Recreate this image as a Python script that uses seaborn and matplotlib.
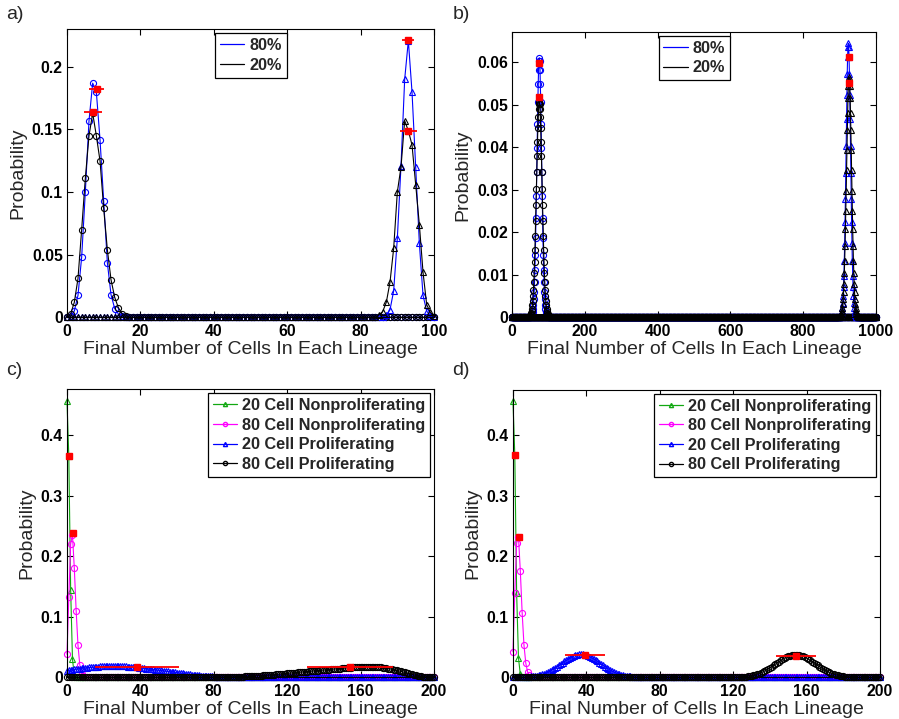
import numpy as np
import matplotlib
matplotlib.use("Agg")
import matplotlib.pyplot as plt
from matplotlib.lines import Line2D
import seaborn as sns

# ---------------- Panel a (x = 0..100) ----------------
a_xmax = 100
a_blue_circ_start = 1
a_blue_circ = [0.001, 0.005, 0.0175, 0.048, 0.100, 0.157, 0.187, 0.180, 0.142, 0.093,
               0.0436, 0.018, 0.007, 0.0027, 0.001]
a_black_circ_start = 1
a_black_circ = [0.0027, 0.012, 0.031, 0.070, 0.111, 0.145, 0.163, 0.145, 0.125, 0.087,
                0.054, 0.030, 0.016, 0.0077, 0.003, 0.001]
a_blue_tri_start = 87
a_blue_tri = [0.0015, 0.006, 0.021, 0.063, 0.121, 0.190, 0.221, 0.180, 0.120, 0.059,
              0.0175, 0.005, 0.001]
a_black_tri_start = 85
a_black_tri = [0.002, 0.0045, 0.012, 0.028, 0.055, 0.100, 0.120, 0.157, 0.149, 0.1377,
               0.106, 0.074, 0.036, 0.010, 0.004, 0.001]
a_red_x = [8.1, 7.0, 93.0, 93.0]
a_red_y = [0.1824, 0.1638, 0.2216, 0.1489]
a_red_err = [2.1, 2.45, 1.6, 2.4]

# ---------------- Panel b (x = 0..1000) ----------------
b_xmax = 1000
b_blue_circ_start = 50
b_blue_circ = [0.00004, 0.00007, 0.00012, 0.0002, 0.00033, 0.00054, 0.00085, 0.0013, 0.0020, 0.0029,
               0.0043, 0.0060, 0.0083, 0.0111, 0.0146, 0.0187, 0.0234, 0.0286, 0.0341, 0.0398,
               0.0454, 0.0505, 0.0548, 0.0582, 0.0603, 0.0610, 0.0603, 0.0582, 0.0548, 0.0505,
               0.0454, 0.0398, 0.0341, 0.0286, 0.0234, 0.0187, 0.0146, 0.0111, 0.0083, 0.0060,
               0.0043, 0.0029, 0.0020, 0.0013, 0.00085, 0.00054, 0.00033, 0.0002, 0.00012, 0.00007,
               0.00004]
b_black_circ_start = 48
b_black_circ = [0.0001, 0.0002, 0.0003, 0.0005, 0.0007, 0.0010, 0.0015, 0.0020, 0.0028, 0.0038,
                0.0050, 0.0065, 0.0083, 0.0105, 0.0130, 0.0159, 0.0191, 0.0227, 0.0264, 0.0302,
                0.0341, 0.0378, 0.0413, 0.0444, 0.0470, 0.0489, 0.0501, 0.0505, 0.0501, 0.0489,
                0.0470, 0.0444, 0.0413, 0.0378, 0.0341, 0.0302, 0.0264, 0.0227, 0.0191, 0.0159,
                0.0130, 0.0105, 0.0083, 0.0065, 0.0050, 0.0038, 0.0028, 0.0020, 0.0015, 0.0010,
                0.0007, 0.0005, 0.0003, 0.0002, 0.0001]
b_blue_tri_start = 902
b_blue_tri = [0.0001, 0.0002, 0.00035, 0.0006, 0.0009, 0.0015, 0.0023, 0.0034, 0.0050, 0.0071,
              0.0098, 0.0133, 0.0175, 0.0224, 0.0279, 0.0340, 0.0403, 0.0465, 0.0523, 0.0573,
              0.0611, 0.0636, 0.0644, 0.0636, 0.0611, 0.0573, 0.0523, 0.0465, 0.0403, 0.0340,
              0.0279, 0.0224, 0.0175, 0.0133, 0.0098, 0.0071, 0.0050, 0.0034, 0.0023, 0.0015,
              0.0009, 0.0006, 0.00035, 0.0002, 0.0001]
b_black_tri_start = 901
b_black_tri = [0.0001, 0.0002, 0.0003, 0.0004, 0.0007, 0.0010, 0.0015, 0.0022, 0.0031, 0.0043,
               0.0059, 0.0079, 0.0104, 0.0133, 0.0168, 0.0207, 0.0251, 0.0297, 0.0346, 0.0394,
               0.0440, 0.0481, 0.0516, 0.0543, 0.0559, 0.0565, 0.0559, 0.0543, 0.0516, 0.0481,
               0.0440, 0.0394, 0.0346, 0.0297, 0.0251, 0.0207, 0.0168, 0.0133, 0.0104, 0.0079,
               0.0059, 0.0043, 0.0031, 0.0022, 0.0015, 0.0010, 0.0007, 0.0004, 0.0003, 0.0002,
               0.0001]
b_red_x = [75.0, 75.0, 927.0, 926.0]
b_red_y = [0.0598, 0.0518, 0.0612, 0.0551]
b_red_err = [6.5, 7.9, 6.2, 7.1]

# ---------------- Panel c (x = 0..200) ----------------
cd_xmax = 200
c_green_start = 0
c_green = [0.457, 0.365, 0.145, 0.030, 0.003]
c_magenta_start = 0
c_magenta = [0.038, 0.132, 0.220, 0.235, 0.180, 0.110, 0.053, 0.020, 0.006, 0.002]
c_blue_start = 0
c_blue = [0.011, 0.0115, 0.012, 0.0125, 0.013, 0.0135, 0.014, 0.0145, 0.015, 0.0153, 0.0157,
          0.016, 0.0163, 0.0166, 0.0169, 0.0172, 0.0175, 0.0177, 0.0179, 0.0181, 0.0183,
          0.0184, 0.0185, 0.0186, 0.0187, 0.0187, 0.0187, 0.0186, 0.0185, 0.0184, 0.0183,
          0.0181, 0.0179, 0.0177, 0.0175, 0.0172, 0.0169, 0.0166, 0.0163, 0.016, 0.0157,
          0.0153, 0.0149, 0.0145, 0.0141, 0.0137, 0.0133, 0.0129, 0.0125, 0.0121, 0.0117,
          0.0113, 0.0109, 0.0105, 0.0101, 0.0097, 0.0093, 0.0089, 0.0085, 0.0081, 0.0077,
          0.0073, 0.0069, 0.0065, 0.0061, 0.0057, 0.0053, 0.0049, 0.0045, 0.0041, 0.0037,
          0.0034, 0.0031, 0.0028, 0.0025, 0.0022, 0.0020, 0.0018, 0.0016, 0.0014, 0.0012,
          0.0011, 0.0010, 0.0009, 0.0008, 0.0007, 0.0007, 0.0006, 0.0006, 0.0005, 0.0005,
          0.0004, 0.0004, 0.0004, 0.0003, 0.0003, 0.0003, 0.0003, 0.0002, 0.0002, 0.0002]
c_black_start = 80
c_black = [0.0002, 0.0002, 0.0003, 0.0003, 0.0003, 0.0004, 0.0004, 0.0005, 0.0006, 0.0006,
           0.0007, 0.0008, 0.0009, 0.0010, 0.0011, 0.0012, 0.0013, 0.0014, 0.0015, 0.0017,
           0.0018, 0.0020, 0.0021, 0.0023, 0.0025, 0.0027, 0.0029, 0.0031, 0.0033, 0.0034,
           0.0036, 0.0039, 0.0042, 0.0045, 0.0047, 0.0050, 0.0053, 0.0056, 0.0059, 0.0061,
           0.0064, 0.0067, 0.0070, 0.0073, 0.0075, 0.0078, 0.0081, 0.0084, 0.0086, 0.0089,
           0.0092, 0.0095, 0.0098, 0.0100, 0.0103, 0.0106, 0.0109, 0.0112, 0.0114, 0.0117,
           0.0120, 0.0123, 0.0126, 0.0128, 0.0131, 0.0134, 0.0137, 0.0140, 0.0142, 0.0145,
           0.0148, 0.0151, 0.0153, 0.0156, 0.0158, 0.0160, 0.0162, 0.0164, 0.0166, 0.0168,
           0.0170, 0.0172, 0.0173, 0.0174, 0.0175, 0.0175, 0.0174, 0.0173, 0.0171, 0.0169,
           0.0166, 0.0162, 0.0158, 0.0154, 0.0149, 0.0144, 0.0139, 0.0133, 0.0126, 0.0120,
           0.0113, 0.0105, 0.0097, 0.0088, 0.0080, 0.0072, 0.0063, 0.0055, 0.0047, 0.0039,
           0.0032, 0.0026, 0.0020, 0.0015, 0.0011, 0.0008, 0.0005, 0.0003, 0.0002, 0.0001,
           0.0001]
c_red_x = [1.25, 3.45, 38.0, 154.2]
c_red_y = [0.365, 0.239, 0.0165, 0.0165]
c_red_err = [0.6, 1.6, 23.0, 23.5]

# ---------------- Panel d (x = 0..200) ----------------
d_green_start = 0
d_green = [0.457, 0.367, 0.139, 0.032, 0.005]
d_magenta_start = 0
d_magenta = [0.042, 0.139, 0.222, 0.232, 0.176, 0.107, 0.053, 0.023, 0.0087, 0.003, 0.001]
d_blue_start = 7
d_blue = [0.0006, 0.0008, 0.0011, 0.0014, 0.0018, 0.0022, 0.0028, 0.0035, 0.0042, 0.0051,
          0.0062, 0.0074, 0.0087, 0.0102, 0.0119, 0.0137, 0.0156, 0.0177, 0.0198, 0.0220,
          0.0241, 0.0263, 0.0284, 0.0304, 0.0323, 0.0339, 0.0353, 0.0365, 0.0373, 0.0378,
          0.0380, 0.0378, 0.0373, 0.0365, 0.0353, 0.0339, 0.0323, 0.0304, 0.0284, 0.0263,
          0.0241, 0.0220, 0.0198, 0.0177, 0.0156, 0.0137, 0.0119, 0.0102, 0.0087, 0.0074,
          0.0062, 0.0051, 0.0042, 0.0035, 0.0028, 0.0022, 0.0018, 0.0014, 0.0011, 0.0008,
          0.0006, 0.0005, 0.0004, 0.0003]
d_black_start = 122
d_black = [0.0003, 0.0004, 0.0006, 0.0008, 0.0010, 0.0013, 0.0017, 0.0022, 0.0027, 0.0034,
           0.0042, 0.0051, 0.0061, 0.0073, 0.0087, 0.0102, 0.0118, 0.0136, 0.0155, 0.0175,
           0.0196, 0.0217, 0.0239, 0.0260, 0.0281, 0.0301, 0.0319, 0.0335, 0.0349, 0.0360,
           0.0368, 0.0373, 0.0375, 0.0373, 0.0368, 0.0360, 0.0349, 0.0335, 0.0319, 0.0301,
           0.0281, 0.0260, 0.0239, 0.0217, 0.0196, 0.0175, 0.0155, 0.0136, 0.0118, 0.0102,
           0.0087, 0.0073, 0.0061, 0.0051, 0.0042, 0.0034, 0.0027, 0.0022, 0.0017, 0.0013,
           0.0010, 0.0008, 0.0006, 0.0004, 0.0003]
d_red_x = [1.1, 3.3, 39.2, 154.2]
d_red_y = [0.367, 0.2316, 0.0368, 0.0357]
d_red_err = [0.6, 1.6, 10.8, 10.9]

# ---------------- tick / legend text ----------------
a_xticks = [0, 20, 40, 60, 80, 100]
a_yticks = [0, 0.05, 0.1, 0.15, 0.2]
b_xticks = [0, 200, 400, 600, 800, 1000]
b_yticks = [0, 0.01, 0.02, 0.03, 0.04, 0.05, 0.06]
cd_xticks = [0, 40, 80, 120, 160, 200]
cd_yticks = [0, 0.1, 0.2, 0.3, 0.4]
ab_legend = ["80%", "20%"]
cd_legend = ["20 Cell Nonproliferating", "80 Cell Nonproliferating",
             "20 Cell Proliferating", "80 Cell Proliferating"]
panel_labels = ["a)", "b)", "c)", "d)"]
xlabel_text = "Final Number of Cells In Each Lineage"
ylabel_text = "Probability"

# ---------------- styling ----------------
sns.set_style("ticks")
plt.rcParams['font.family'] = ['Liberation Sans', 'DejaVu Sans']
plt.rcParams['axes.linewidth'] = 0.8

GREEN = "#12a812"
MAGENTA = "#ff00ff"
BLUE = "#0000ff"
BLACK = "#000000"
RED = "#ff0000"


def series(xmax, start, vals):
    y = np.zeros(xmax + 1)
    y[start:start + len(vals)] = vals
    return y


def draw(ax, xmax, start, vals, color, marker, ms=4.4, lw=0.8):
    x = np.arange(xmax + 1)
    y = series(xmax, start, vals)
    sns.lineplot(x=x, y=y, ax=ax, color=color, linewidth=lw, marker=marker,
                 markersize=ms, markerfacecolor='none', markeredgecolor=color,
                 markeredgewidth=0.8, estimator=None, sort=False, legend=False,
                 clip_on=False)


def red(ax, rx, ry, rerr):
    ax.errorbar(rx, ry, xerr=rerr, fmt='s', color=RED, ms=4, mfc=RED, mec=RED,
                elinewidth=1.3, capsize=0, zorder=6, clip_on=False)


def fmt(v):
    return "0" if v == 0 else f"{v:g}"


def style(ax, xlim, ylim, xticks, yticks):
    ax.set_xlim(*xlim)
    ax.set_ylim(*ylim)
    ax.set_xticks(xticks)
    ax.set_xticklabels([fmt(v) for v in xticks], fontweight='bold')
    ax.set_yticks(yticks)
    ax.set_yticklabels([fmt(v) for v in yticks], fontweight='bold')
    ax.tick_params(direction='in', top=True, right=True, length=4, width=0.8,
                   labelsize=11.4, colors='black')
    ax.tick_params(axis='x', pad=5)
    ax.tick_params(axis='y', pad=3)
    for s in ax.spines.values():
        s.set_visible(True)
        s.set_linewidth(0.8)
        s.set_color('black')
    ax.set_xlabel(xlabel_text, fontsize=14, labelpad=1)
    ax.set_ylabel(ylabel_text, fontsize=14, labelpad=4)


fig = plt.figure(figsize=(8.99, 7.19), dpi=100)
axa = fig.add_axes([0.0745, 0.5587, 0.4083, 0.4005])
axb = fig.add_axes([0.5695, 0.5587, 0.4049, 0.3964])
axc = fig.add_axes([0.0745, 0.0580, 0.4083, 0.4006])
axd = fig.add_axes([0.5706, 0.0580, 0.4083, 0.3996])

# panel a
draw(axa, a_xmax, a_blue_circ_start, a_blue_circ, BLUE, 'o')
draw(axa, a_xmax, a_black_circ_start, a_black_circ, BLACK, 'o')
draw(axa, a_xmax, a_blue_tri_start, a_blue_tri, BLUE, '^')
draw(axa, a_xmax, a_black_tri_start, a_black_tri, BLACK, '^')
red(axa, a_red_x, a_red_y, a_red_err)
style(axa, (0, 100), (0, 0.23), a_xticks, a_yticks)

# panel b
draw(axb, b_xmax, b_blue_circ_start, b_blue_circ, BLUE, 'o')
draw(axb, b_xmax, b_black_circ_start, b_black_circ, BLACK, 'o')
draw(axb, b_xmax, b_blue_tri_start, b_blue_tri, BLUE, '^')
draw(axb, b_xmax, b_black_tri_start, b_black_tri, BLACK, '^')
red(axb, b_red_x, b_red_y, b_red_err)
style(axb, (0, 1000), (0, 0.067), b_xticks, b_yticks)

# panel c
draw(axc, cd_xmax, c_green_start, c_green, GREEN, '^')
draw(axc, cd_xmax, c_magenta_start, c_magenta, MAGENTA, 'o')
draw(axc, cd_xmax, c_blue_start, c_blue, BLUE, '^')
draw(axc, cd_xmax, c_black_start, c_black, BLACK, 'o')
red(axc, c_red_x, c_red_y, c_red_err)
style(axc, (0, 200), (0, 0.476), cd_xticks, cd_yticks)

# panel d
draw(axd, cd_xmax, d_green_start, d_green, GREEN, '^')
draw(axd, cd_xmax, d_magenta_start, d_magenta, MAGENTA, 'o')
draw(axd, cd_xmax, d_blue_start, d_blue, BLUE, '^')
draw(axd, cd_xmax, d_black_start, d_black, BLACK, 'o')
red(axd, d_red_x, d_red_y, d_red_err)
style(axd, (0, 200), (0, 0.475), cd_xticks, cd_yticks)

# legends
leg_kw = dict(prop={'weight': 'bold', 'size': 11.7}, frameon=True, fancybox=False,
              edgecolor='black', framealpha=1, borderaxespad=0, borderpad=0.3,
              handlelength=1.5, handletextpad=0.3, labelspacing=0.28)
ab_handles = [Line2D([], [], color=BLUE, lw=0.9), Line2D([], [], color=BLACK, lw=0.9)]
la = axa.legend(ab_handles, ab_legend, loc='upper center', bbox_to_anchor=(0.279, 0.9537),
                bbox_transform=fig.transFigure, **leg_kw)
lb = axb.legend(ab_handles, ab_legend, loc='upper center', bbox_to_anchor=(0.7723, 0.950),
                bbox_transform=fig.transFigure, **leg_kw)


def cd_handles():
    return [Line2D([], [], color=GREEN, lw=0.9, marker='^', ms=3, mfc='none', mec=GREEN),
            Line2D([], [], color=MAGENTA, lw=0.9, marker='o', ms=3, mfc='none', mec=MAGENTA),
            Line2D([], [], color=BLUE, lw=0.9, marker='^', ms=3, mfc='none', mec=BLUE),
            Line2D([], [], color=BLACK, lw=0.9, marker='o', ms=3, mfc='none', mec=BLACK)]


lc = axc.legend(cd_handles(), cd_legend, loc='upper right', bbox_to_anchor=(0.4783, 0.453),
                bbox_transform=fig.transFigure, **leg_kw)
ld = axd.legend(cd_handles(), cd_legend, loc='upper right', bbox_to_anchor=(0.9744, 0.4524),
                bbox_transform=fig.transFigure, **leg_kw)
for lg in (la, lb, lc, ld):
    lg.get_frame().set_linewidth(0.9)
    lg.set_zorder(10)

# panel letters
for lab, (px, py) in zip(panel_labels, [(0.007, 0.991), (0.503, 0.991), (0.007, 0.497), (0.503, 0.497)]):
    fig.text(px, py, lab, fontsize=14, ha='left', va='top')

fig.savefig("out.png", dpi=100)
